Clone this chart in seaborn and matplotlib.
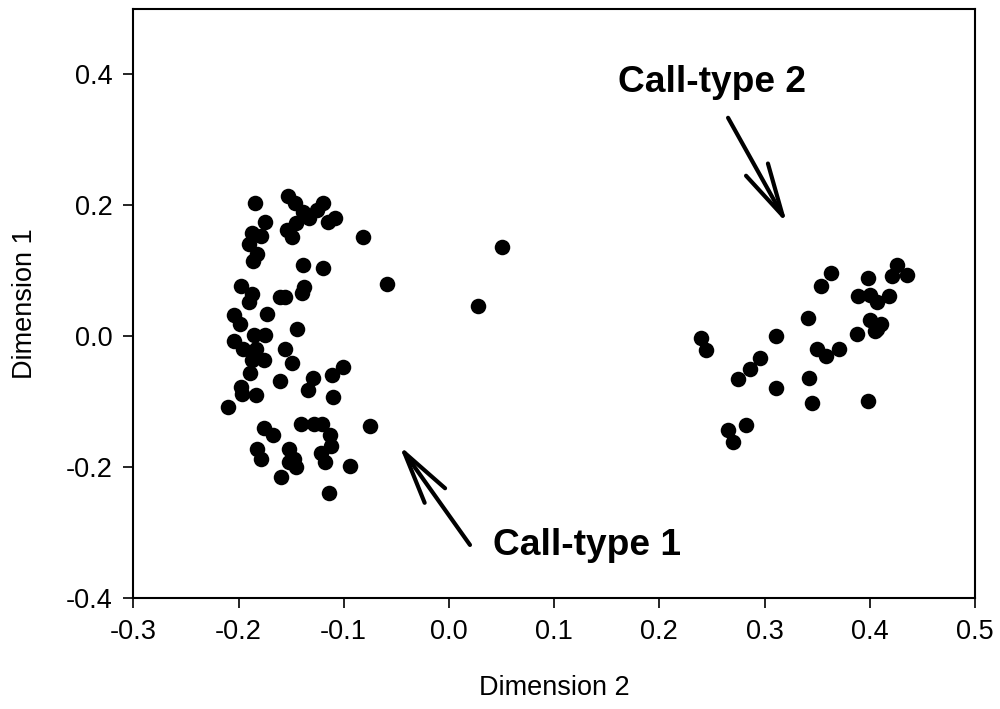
import matplotlib
matplotlib.use("Agg")
import matplotlib.pyplot as plt
import seaborn as sns
import pandas as pd

# Dimension 2 (x) and Dimension 1 (y) values
dim2_type1 = [-0.184, -0.153, -0.146, -0.120, -0.139, -0.133, -0.125, -0.115, -0.108,
              -0.175, -0.145, -0.154, -0.187, -0.179, -0.149, -0.190, -0.082, -0.182,
              -0.186, -0.139, -0.120, -0.059, -0.198, -0.187, -0.190, -0.161, -0.156,
              -0.138, -0.140, -0.173, -0.204, -0.199, -0.144, -0.185, -0.175,
              -0.204, -0.196, -0.183, -0.156, -0.187, -0.176, -0.149, -0.189, -0.161,
              -0.129, -0.111, -0.101, -0.198, -0.197, -0.183, -0.134, -0.110, -0.210,
              -0.176, -0.167, -0.141, -0.128, -0.121, -0.075, -0.113, -0.112, -0.182,
              -0.152, -0.122, -0.179, -0.147, -0.152, -0.145, -0.118, -0.094, -0.160,
              -0.114, 0.050, 0.028]
dim1_type1 = [0.204, 0.214, 0.204, 0.204, 0.189, 0.181, 0.192, 0.174, 0.180,
              0.174, 0.172, 0.162, 0.158, 0.153, 0.152, 0.141, 0.152, 0.126,
              0.115, 0.108, 0.104, 0.080, 0.076, 0.064, 0.052, 0.059, 0.060,
              0.075, 0.066, 0.033, 0.032, 0.019, 0.011, 0.001, 0.001,
              -0.007, -0.019, -0.019, -0.020, -0.037, -0.037, -0.041, -0.056, -0.069,
              -0.064, -0.060, -0.047, -0.078, -0.088, -0.090, -0.083, -0.093, -0.109,
              -0.140, -0.151, -0.134, -0.135, -0.135, -0.137, -0.151, -0.168, -0.172,
              -0.173, -0.178, -0.188, -0.187, -0.192, -0.200, -0.192, -0.198, -0.215,
              -0.239, 0.136, 0.046]

dim2_type2 = [0.426, 0.421, 0.435, 0.363, 0.398, 0.354, 0.389, 0.400, 0.407, 0.418,
              0.341, 0.400, 0.411, 0.407, 0.405, 0.388, 0.240, 0.244, 0.311, 0.350,
              0.358, 0.371, 0.296, 0.286, 0.275, 0.342, 0.311, 0.345, 0.398, 0.282,
              0.265, 0.270]
dim1_type2 = [0.109, 0.092, 0.094, 0.097, 0.089, 0.076, 0.061, 0.062, 0.052, 0.061,
              0.028, 0.024, 0.019, 0.011, 0.007, 0.003, -0.003, -0.021, 0.000, -0.019,
              -0.031, -0.019, -0.034, -0.050, -0.066, -0.064, -0.080, -0.102, -0.099, -0.136,
              -0.144, -0.162]

x_ticks = [-0.3, -0.2, -0.1, 0.0, 0.1, 0.2, 0.3, 0.4, 0.5]
y_ticks = [-0.4, -0.2, 0.0, 0.2, 0.4]

df = pd.DataFrame({
    "Dimension 2": dim2_type1 + dim2_type2,
    "Dimension 1": dim1_type1 + dim1_type2,
})

sns.set_style("ticks")
plt.rcParams["font.family"] = ["Liberation Sans", "DejaVu Sans"]
plt.rcParams["text.color"] = "black"
plt.rcParams["axes.labelcolor"] = "black"

fig = plt.figure(figsize=(10, 7.09), dpi=100)
ax = fig.add_axes([0.1333, 0.1566, 0.8417, 0.8311])

sns.scatterplot(data=df, x="Dimension 2", y="Dimension 1", ax=ax,
                color="black", s=125, linewidth=0, legend=False)

ax.set_xlim(-0.3, 0.5)
ax.set_ylim(-0.4, 0.5)
ax.set_xticks(x_ticks)
ax.set_yticks(y_ticks)
ax.set_xticklabels([f"{v:.1f}" for v in x_ticks])
ax.set_yticklabels([f"{v:.1f}" for v in y_ticks])
ax.tick_params(axis="both", direction="out", length=7, width=1.2,
               labelsize=19.5, colors="black", pad=8)
for sp in ax.spines.values():
    sp.set_visible(True)
    sp.set_linewidth(1.5)
    sp.set_color("black")

ax.set_xlabel("Dimension 2", fontsize=19.5, labelpad=22, color="black")
ax.set_ylabel("Dimension 1", fontsize=19.5, labelpad=20, color="black")

arrow = dict(arrowstyle="->,head_length=0.4,head_width=0.095", lw=3,
             color="black", mutation_scale=95, shrinkA=0, shrinkB=0)
ax.annotate("", xy=(0.3214, 0.1718), xytext=(0.2653, 0.3334), arrowprops=arrow)
ax.annotate("", xy=(-0.0474, -0.1666), xytext=(0.020, -0.319), arrowprops=arrow)
ax.text(0.2505, 0.3870, "Call-type 2", fontsize=26.7, fontweight="bold",
        ha="center", va="center", color="black")
ax.text(0.1315, -0.3195, "Call-type 1", fontsize=26.7, fontweight="bold",
        ha="center", va="center", color="black")

fig.savefig("out.png", dpi=100)
